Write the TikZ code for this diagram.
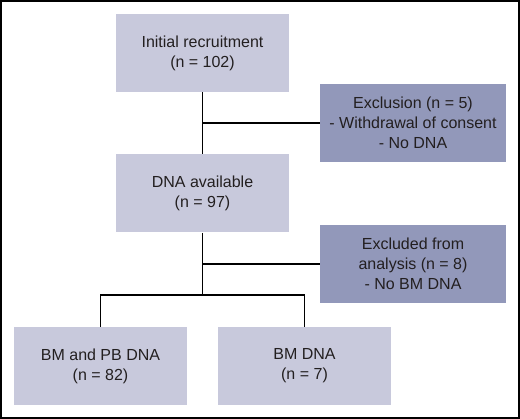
\documentclass[tikz,border=0pt]{standalone}
\usepackage{fontspec}
\setmainfont{Liberation Sans}
\usetikzlibrary{positioning}
\definecolor{boxlight}{RGB}{200,201,220}
\definecolor{boxdark}{RGB}{146,152,186}
\definecolor{inkgray}{RGB}{35,31,32}

\begin{document}
\begin{tikzpicture}[x=1pt, y=-1pt, semithick, inner sep=0pt,
      font=\fontsize{16}{20}\selectfont, text=inkgray,
      stage/.style={fill=boxlight, align=center,
        minimum width=173pt, minimum height=78pt},
      drop/.style={fill=boxdark, align=center,
        minimum width=186pt, minimum height=78pt},
      link/.style={draw=black, line width=1.1pt}]
      \useasboundingbox (0,0) rectangle (520,419);
      \draw[line width=2pt] (1,1) rectangle (519,418);
      % recruitment, exclusion
      \node[stage] (init) at(202.5,53) {Initial recruitment\\(n = 102)};
      \node[drop] (excl) at(413,123) {Exclusion (n = 5)\\- Withdrawal of consent\\- No DNA};
      % available, excluded from analysis
      \node[stage] (avail) at(202.5,193.5) {DNA available\\(n = 97)};
      \node[drop] (anal) at(413,264) {Excluded from\\analysis (n = 8)\\- No BM DNA};
      % final groups
      \node[stage] (bmpb) at(100.5,366) {BM and PB DNA\\(n = 82)};
      \node[stage] (bmonly) at(304.5,366) {BM DNA\\(n = 7)};
      % connectors
      \path[link] (init) edge (avail);
      \path[link] (init.south |- excl.west) edge (excl.west);
      \coordinate (split) at(202.5,295);
      \path[link] (avail) edge (split);
      \path[link] (avail.south |- anal.west) edge (anal.west);
      \draw[link] (bmpb.north) |- (split) -| (bmonly.north);
  \end{tikzpicture}
\end{document}
